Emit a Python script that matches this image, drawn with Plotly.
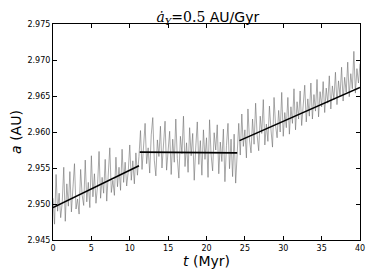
import plotly.graph_objects as go

t_step = 0.2
a_noisy = [
    # segment 1 (t = 0 .. 11.2)
    2.9508, 2.9472, 2.9541, 2.9490, 2.9515, 2.9481, 2.9502, 2.9551, 2.9476, 2.9528,
    2.9497, 2.9545, 2.9489, 2.9519, 2.9556, 2.9493, 2.9507, 2.9486, 2.9548, 2.9512,
    2.9498, 2.9561, 2.9503, 2.9530, 2.9495, 2.9567, 2.9510, 2.9542, 2.9501, 2.9525,
    2.9573, 2.9508, 2.9537, 2.9515, 2.9562, 2.9504, 2.9549, 2.9578, 2.9516, 2.9533,
    2.9512, 2.9565, 2.9524, 2.9551, 2.9519, 2.9576, 2.9530, 2.9558, 2.9525, 2.9545,
    2.9582, 2.9533, 2.9560, 2.9528, 2.9571, 2.9540, 2.9566,
    # segment 2 (t = 11.4 .. 24.0)
    2.9602, 2.9548, 2.9585, 2.9612, 2.9556, 2.9578, 2.9543, 2.9596, 2.9620, 2.9561,
    2.9539, 2.9589, 2.9566, 2.9608, 2.9550, 2.9583, 2.9615, 2.9547, 2.9572, 2.9601,
    2.9541, 2.9590, 2.9558, 2.9618, 2.9563, 2.9536, 2.9594, 2.9570, 2.9622, 2.9552,
    2.9585, 2.9544, 2.9606, 2.9567, 2.9598, 2.9533, 2.9579, 2.9614, 2.9555, 2.9588,
    2.9540, 2.9603, 2.9562, 2.9592, 2.9537, 2.9617, 2.9568, 2.9546, 2.9599, 2.9575,
    2.9610, 2.9542, 2.9586, 2.9559, 2.9604, 2.9531, 2.9581, 2.9612, 2.9549, 2.9590,
    2.9538, 2.9597, 2.9529, 2.9583,
    # segment 3 (t = 24.2 .. 40.0)
    2.9612, 2.9568, 2.9625, 2.9580, 2.9603, 2.9564, 2.9632, 2.9589, 2.9571, 2.9618,
    2.9583, 2.9640, 2.9595, 2.9574, 2.9622, 2.9598, 2.9645, 2.9582, 2.9611, 2.9587,
    2.9636, 2.9603, 2.9579, 2.9648, 2.9609, 2.9592, 2.9630, 2.9600, 2.9655, 2.9594,
    2.9627, 2.9606, 2.9648, 2.9597, 2.9635, 2.9612, 2.9660, 2.9603, 2.9642, 2.9618,
    2.9657, 2.9609, 2.9638, 2.9665, 2.9614, 2.9646, 2.9622, 2.9668, 2.9618, 2.9652,
    2.9629, 2.9673, 2.9621, 2.9656, 2.9635, 2.9670, 2.9627, 2.9661, 2.9640, 2.9678,
    2.9632, 2.9664, 2.9645, 2.9683, 2.9638, 2.9671, 2.9650, 2.9690, 2.9643, 2.9676,
    2.9655, 2.9697, 2.9649, 2.9681, 2.9660, 2.9712, 2.9654, 2.9688, 2.9668, 2.9695,
]
t_noisy = [round(i * t_step, 2) for i in range(len(a_noisy))]

# fitted trend segments
fit_t = [[0.0, 11.2], [11.3, 24.0], [24.3, 40.0]]
fit_a = [[2.9495, 2.9553], [2.9572, 2.9571], [2.9588, 2.9662]]

x_ticks = [0, 5, 10, 15, 20, 25, 30, 35, 40]
y_ticks = [2.945, 2.950, 2.955, 2.960, 2.965, 2.970, 2.975]

fig = go.Figure()
fig.add_trace(go.Scatter(x=t_noisy, y=a_noisy, mode="lines",
                         line=dict(color="rgba(110,110,110,0.85)", width=0.7),
                         showlegend=False, hoverinfo="skip"))
for tt, aa in zip(fit_t, fit_a):
    fig.add_trace(go.Scatter(x=tt, y=aa, mode="lines",
                             line=dict(color="black", width=1.6),
                             showlegend=False))

axis_common = dict(showline=True, linecolor="black", linewidth=1, mirror="ticks",
                   ticks="inside", ticklen=4, tickcolor="black", showgrid=False,
                   zeroline=False, automargin=False,
                   tickfont=dict(family="DejaVu Sans", size=8, color="black"))

# page body has an 8px default margin, so the figure is sized to fit the window
fig.update_layout(
    width=366, height=272,
    margin=dict(l=45, r=14, t=16, b=40),
    plot_bgcolor="white", paper_bgcolor="white",
    title=dict(text="<span style='font-family:DejaVu Serif'><i>ȧ</i><sub><i>Y</i></sub>=0.5</span> AU/Gyr",
               x=0.546, xanchor="center", y=0.947, yanchor="bottom",
               font=dict(family="DejaVu Sans", size=14, color="black")),
    xaxis=dict(range=[0, 40], tickvals=x_ticks, ticktext=[str(v) for v in x_ticks],
               title=dict(text="<i>t</i> (Myr)", standoff=2,
                          font=dict(family="DejaVu Sans", size=14, color="black")),
               **axis_common),
    yaxis=dict(range=[2.945, 2.975], tickvals=y_ticks,
               ticktext=[f"{v:.3f}" for v in y_ticks],
               title=dict(text="<i>a</i> (AU)", standoff=4,
                          font=dict(family="DejaVu Sans", size=14, color="black")),
               **axis_common),
)

fig.write_html("out.html")
